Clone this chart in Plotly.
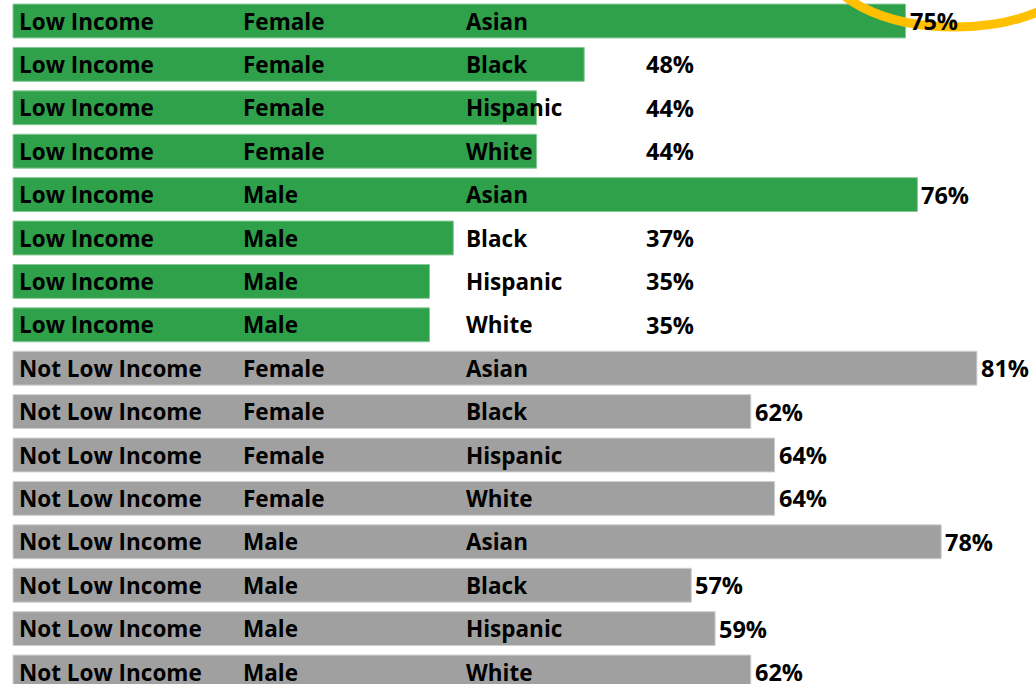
import plotly.graph_objects as go

income = ["Low Income"] * 8 + ["Not Low Income"] * 8
gender = (["Female"] * 4 + ["Male"] * 4) * 2
race = ["Asian", "Black", "Hispanic", "White"] * 4
values = [75, 48, 44, 44, 76, 37, 35, 35,
          81, 62, 64, 64, 78, 57, 59, 62]
colors = ["#2ea14a"] * 8 + ["#a0a0a0"] * 8
edge_colors = ["#86c996"] * 8 + ["#cfcfcf"] * 8

W, H = 1036, 684
px0 = 13.0          # pixel of x = 0
ppu = 11.9          # pixels per percent
row0 = 21.0         # pixel centre of first row
pitch = 43.4        # pixels per row

n = len(values)
ys = list(range(n))

fig = go.Figure()
fig.add_trace(go.Bar(
    x=values, y=ys, orientation="h",
    marker=dict(color=colors, line=dict(color=edge_colors, width=1)),
    width=0.78, hoverinfo="skip", showlegend=False,
))

font = dict(family="Open Sans, DejaVu Sans, sans-serif", size=22.5, color="#000000")
vfont = dict(family="Open Sans, DejaVu Sans, sans-serif", size=23.5, color="#000000")
ann = []
col_px = [17, 241, 464]
for i in range(n):
    for txt, cx in zip([income[i], gender[i], race[i]], col_px):
        ann.append(dict(x=cx / W, xref="paper", y=i, yref="y", text="<b>%s</b>" % txt,
                        showarrow=False, xanchor="left", yanchor="middle", font=font))
    min_x = (642 - px0) / ppu
    ann.append(dict(x=max(values[i], min_x), xref="x", y=i, yref="y",
                    text="<b>%d%%</b>" % values[i], showarrow=False,
                    xanchor="left", yanchor="middle", xshift=2, font=vfont))

fig.update_layout(
    width=W, height=H,
    margin=dict(l=0, r=0, t=0, b=0),
    plot_bgcolor="white", paper_bgcolor="white",
    xaxis=dict(range=[-px0 / ppu, (W - px0) / ppu], visible=False, fixedrange=True),
    yaxis=dict(range=[(H - row0) / pitch, -row0 / pitch], visible=False, fixedrange=True),
    annotations=ann,
    bargap=0.2,
)

# orange highlight ellipse (top right), pixel-based -> paper coords
cx, cy, rx, ry = 955, -40, 131, 67
fig.add_shape(type="circle", xref="paper", yref="paper",
              x0=(cx - rx) / W, x1=(cx + rx) / W,
              y0=1 - (cy + ry) / H, y1=1 - (cy - ry) / H,
              line=dict(color="#ffc000", width=9), layer="above")

fig.write_html("out.html", config={"displayModeBar": False},
               post_script="document.body.style.margin='0';document.body.style.overflow='hidden';")
